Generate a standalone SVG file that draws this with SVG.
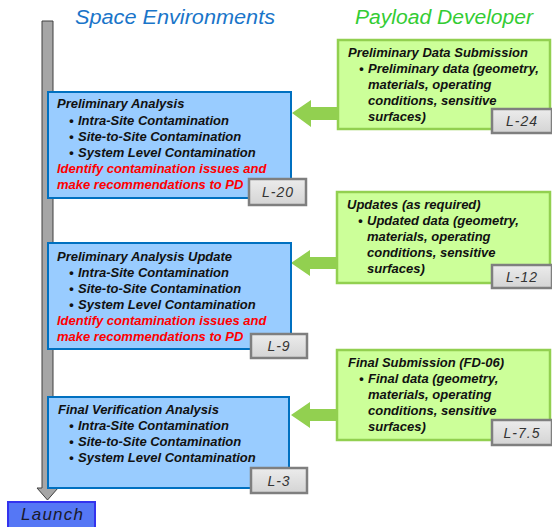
<svg xmlns="http://www.w3.org/2000/svg" width="552" height="527" viewBox="0 0 552 527">
<defs>
<linearGradient id="lg" x1="0" y1="0" x2="0" y2="1">
<stop offset="0" stop-color="#ececec"/><stop offset="1" stop-color="#d4d4d4"/>
</linearGradient>
</defs>
<style>
text{font-family:"Liberation Sans",Arial,sans-serif;}
.b{font-size:13px;font-weight:bold;font-style:italic;fill:#111;}
.r{font-size:13px;font-weight:bold;font-style:italic;fill:#ff0000;}
.blue{fill:#99ccff;stroke:#0070c0;stroke-width:2;}
.green{fill:#ccff99;stroke:#92d050;stroke-width:2.5;}
.lab{fill:url(#lg);stroke:#7f7f7f;stroke-width:2.5;}
.lt{font-size:14px;font-style:italic;fill:#333;text-anchor:middle;letter-spacing:1px;}
.arr{fill:#92d050;}
.title{font-size:20px;font-style:italic;}
</style>
<rect width="552" height="527" fill="#fff"/>
<text class="title" x="75" y="24" fill="#1a75c9" textLength="200" lengthAdjust="spacingAndGlyphs">Space Environments</text>
<text class="title" x="355" y="24" fill="#33cc33" textLength="178" lengthAdjust="spacingAndGlyphs">Payload Developer</text>
<g id="connectors">
<polygon points="42,21 53,21 53,488 58,488 47.5,500 37,488 42,488" fill="#a6a6a6" stroke="#404040" stroke-width="1"/>
<polygon class="arr" points="292,113 311,100 311,107 338,107 338,120 311,120 311,127"/>
<polygon class="arr" points="291,263 310,250 310,257 337,257 337,269 310,269 310,276"/>
<polygon class="arr" points="291,415 310,402 310,409 337,409 337,421 310,421 310,428"/>
</g>
<g id="pa">
<rect class="blue" x="48" y="92" width="243" height="106"/>
<text class="b" x="57" y="108">Preliminary Analysis</text>
<text class="b" x="69" y="124.5">•</text><text class="b" x="78" y="124.5">Intra-Site Contamination</text>
<text class="b" x="69" y="140.5">•</text><text class="b" x="78" y="140.5">Site-to-Site Contamination</text>
<text class="b" x="69" y="156.5">•</text><text class="b" x="78" y="156.5">System Level Contamination</text>
<text class="r" x="57" y="172.5">Identify contamination issues and</text>
<text class="r" x="57" y="188.5">make recommendations to PD</text>
<rect class="lab" x="249" y="179" width="57" height="26"/>
<text class="lt" x="278" y="197">L-20</text>
</g>
<g id="pau">
<rect class="blue" x="48" y="243" width="243" height="106"/>
<text class="b" x="57" y="260.5">Preliminary Analysis Update</text>
<text class="b" x="69" y="277">•</text><text class="b" x="78" y="277">Intra-Site Contamination</text>
<text class="b" x="69" y="293">•</text><text class="b" x="78" y="293">Site-to-Site Contamination</text>
<text class="b" x="69" y="309">•</text><text class="b" x="78" y="309">System Level Contamination</text>
<text class="r" x="57" y="325">Identify contamination issues and</text>
<text class="r" x="57" y="341">make recommendations to PD</text>
<rect class="lab" x="251" y="334" width="56" height="24"/>
<text class="lt" x="279" y="351">L-9</text>
</g>
<g id="fva">
<rect class="blue" x="48" y="397" width="241" height="91"/>
<text class="b" x="58" y="413.5">Final Verification Analysis</text>
<text class="b" x="69" y="430">•</text><text class="b" x="78" y="430">Intra-Site Contamination</text>
<text class="b" x="69" y="446">•</text><text class="b" x="78" y="446">Site-to-Site Contamination</text>
<text class="b" x="69" y="462">•</text><text class="b" x="78" y="462">System Level Contamination</text>
<rect class="lab" x="251" y="468" width="56" height="25"/>
<text class="lt" x="279" y="486">L-3</text>
</g>
<g id="pds">
<rect class="green" x="338" y="40" width="212" height="89"/>
<text class="b" x="348" y="57">Preliminary Data Submission</text>
<text class="b" x="359" y="73">•</text><text class="b" x="368" y="73">Preliminary data (geometry,</text>
<text class="b" x="368" y="89">materials, operating</text>
<text class="b" x="368" y="105">conditions, sensitive</text>
<text class="b" x="368" y="121">surfaces)</text>
<rect class="lab" x="492" y="109" width="60" height="24"/>
<text class="lt" x="522" y="126">L-24</text>
</g>
<g id="upd">
<rect class="green" x="337" y="192" width="213" height="91"/>
<text class="b" x="347" y="208.5">Updates (as required)</text>
<text class="b" x="358" y="225">•</text><text class="b" x="367" y="225">Updated data (geometry,</text>
<text class="b" x="367" y="241">materials, operating</text>
<text class="b" x="367" y="257">conditions, sensitive</text>
<text class="b" x="367" y="273">surfaces)</text>
<rect class="lab" x="492" y="265" width="60" height="23"/>
<text class="lt" x="522" y="282">L-12</text>
</g>
<g id="fs">
<rect class="green" x="337" y="350" width="213" height="90"/>
<text class="b" x="348" y="367">Final Submission (FD-06)</text>
<text class="b" x="359" y="383">•</text><text class="b" x="368" y="383">Final data (geometry,</text>
<text class="b" x="368" y="399">materials, operating</text>
<text class="b" x="368" y="415">conditions, sensitive</text>
<text class="b" x="368" y="431">surfaces)</text>
<rect class="lab" x="492" y="420" width="60" height="25"/>
<text class="lt" x="522" y="438">L-7.5</text>
</g>
<g id="launch">
<rect x="8" y="502" width="87" height="27" fill="#5577f5" stroke="#3333ee" stroke-width="2"/>
<text x="21" y="520" font-size="17" font-style="italic" fill="#1a1a2a" textLength="62" lengthAdjust="spacing">Launch</text>
</g>
</svg>
